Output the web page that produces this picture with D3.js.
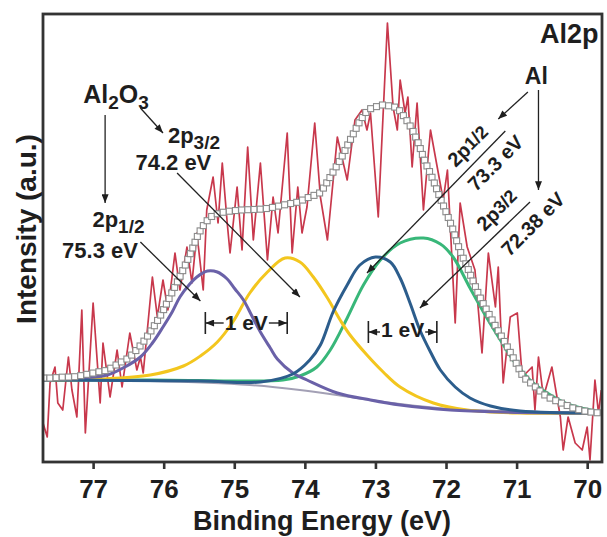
<!DOCTYPE html>
<html><head><meta charset="utf-8">
<script src="https://cdn.jsdelivr.net/npm/d3@7"></script>
<style>
body{margin:0;background:#fff}
text{font-family:Arial,"Liberation Sans",sans-serif;font-weight:bold;fill:#1e1e1e}
</style>
</head><body>
<svg id="chart" width="607" height="537"></svg>
<script>
// ---------- DATA (binding energy eV, intensity a.u.) ----------
const energyTicks = [77, 76, 75, 74, 73, 72, 71, 70];

const rawSpectrum = [[77.71,390],[77.65,250],[77.61,790],[77.54,950],[77.50,590],[77.43,520],[77.35,1050],[77.30,720],[77.23,450],[77.16,1520],[77.11,290],[77.00,1590],[76.90,590],[76.86,1190],[76.76,650],[76.66,1120],[76.59,750],[76.48,1290],[76.38,920],[76.33,1050],[76.29,890],[76.16,1850],[76.09,1450],[76.01,1820],[75.94,1520],[75.84,2090],[75.77,1720],[75.67,2150],[75.60,1790],[75.53,2290],[75.44,1720],[75.39,2520],[75.30,2850],[75.23,2390],[75.17,2990],[75.10,2390],[75.06,2090],[74.96,2750],[74.89,2120],[74.81,3150],[74.73,2220],[74.63,2990],[74.53,2020],[74.45,2650],[74.38,2290],[74.25,3290],[74.18,2090],[74.10,2750],[74.04,2290],[73.97,2550],[73.86,3390],[73.78,2650],[73.68,2220],[73.54,3250],[73.40,2820],[73.29,3420],[73.19,3520],[73.12,3320],[73.07,3490],[72.96,2450],[72.83,4390],[72.75,3550],[72.69,3320],[72.65,3820],[72.58,3490],[72.54,3650],[72.48,2950],[72.41,3590],[72.32,2520],[72.22,3320],[72.13,2970],[72.04,2620],[71.98,2920],[71.87,1390],[71.80,2590],[71.70,2150],[71.59,1920],[71.49,1090],[71.40,2090],[71.30,1550],[71.26,1950],[71.19,790],[71.09,1450],[70.99,1490],[70.92,850],[70.78,950],[70.74,520],[70.69,1050],[70.62,650],[70.50,950],[70.38,450],[70.34,120],[70.27,450],[70.17,190],[70.07,120],[70.00,350],[69.96,20],[69.89,820],[69.84,490],[69.80,720]];

const envelopeFit = [[77.7,840],[77.6,840],[77.5,845],[77.4,850],[77.3,850],[77.2,860],[77.1,875],[77.0,890],[76.9,905],[76.8,920],[76.7,960],[76.6,1000],[76.5,1040],[76.4,1110],[76.3,1190],[76.2,1290],[76.1,1400],[76.0,1525],[75.9,1670],[75.8,1810],[75.7,1960],[75.6,2120],[75.5,2290],[75.4,2400],[75.3,2465],[75.2,2490],[75.1,2505],[75.0,2513],[74.9,2520],[74.8,2523],[74.7,2526],[74.6,2530],[74.5,2540],[74.4,2555],[74.3,2570],[74.2,2585],[74.1,2600],[74.0,2630],[73.9,2660],[73.8,2685],[73.7,2780],[73.6,2900],[73.5,3020],[73.4,3160],[73.3,3300],[73.2,3430],[73.1,3520],[73.0,3550],[72.9,3570],[72.8,3560],[72.7,3540],[72.6,3460],[72.5,3350],[72.4,3200],[72.3,3010],[72.2,2850],[72.1,2670],[72.0,2500],[71.9,2320],[71.8,2110],[71.7,1950],[71.6,1780],[71.5,1620],[71.4,1490],[71.3,1360],[71.2,1240],[71.1,1110],[71.0,980],[70.9,850],[70.8,790],[70.7,730],[70.6,670],[70.5,630],[70.4,600],[70.3,570],[70.2,540],[70.1,520],[70.0,505],[69.9,495],[69.8,490]];

const backgroundFit = [[77.71,820],[76.19,810],[74.78,770],[74.07,720],[73.36,650],[72.65,580],[71.94,530],[71.23,510],[69.82,490]];

const al2o3_2p12 = [[77.71,820],[77.18,840],[76.80,870],[76.55,950],[76.33,1050],[76.16,1190],[76.01,1350],[75.88,1500],[75.77,1650],[75.63,1780],[75.53,1850],[75.38,1910],[75.24,1900],[75.10,1830],[74.99,1730],[74.87,1620],[74.75,1460],[74.63,1300],[74.49,1140],[74.39,1030],[74.17,890],[73.97,820],[73.54,690],[73.07,620],[72.65,570],[71.94,520],[71.23,500],[69.82,490]];

const al2o3_2p32 = [[77.71,820],[76.90,830],[76.19,870],[75.72,960],[75.48,1060],[75.24,1200],[75.02,1400],[74.78,1690],[74.53,1900],[74.28,2040],[74.07,2000],[73.88,1850],[73.68,1640],[73.50,1420],[73.36,1270],[73.12,1070],[72.89,900],[72.65,750],[72.18,590],[71.70,520],[70.95,490],[69.82,490]];

const al_2p12 = [[77.71,820],[75.48,810],[74.63,800],[74.17,880],[73.93,1020],[73.78,1170],[73.60,1500],[73.40,1770],[73.22,1970],[73.00,2050],[72.79,2000],[72.65,1840],[72.51,1590],[72.37,1320],[72.22,1100],[72.08,920],[71.87,750],[71.66,640],[71.37,560],[70.95,510],[69.82,490]];

const al_2p32 = [[77.71,820],[76.19,820],[74.31,820],[74.07,860],[73.83,950],[73.64,1120],[73.40,1440],[73.17,1770],[72.93,2020],[72.65,2190],[72.32,2240],[72.08,2180],[71.90,2050],[71.66,1740],[71.42,1440],[71.23,1220],[71.05,1020],[70.81,820],[70.52,670],[70.24,570],[69.82,500]];

// ---------- LAYOUT ----------
const plot = {l: 43, t: 14, r: 602, b: 462};
const x = d3.scaleLinear().domain([77.71, 69.79]).range([plot.l, plot.r]);
const y = d3.scaleLinear().domain([0, 4480]).range([plot.b, plot.t]);

const svg = d3.select("#chart");
const defs = svg.append("defs");
defs.append("clipPath").attr("id", "clip").append("rect")
  .attr("x", plot.l).attr("y", plot.t).attr("width", plot.r - plot.l).attr("height", plot.b - plot.t);
defs.append("marker").attr("id", "arr").attr("viewBox", "0 0 10 8")
  .attr("refX", 10).attr("refY", 4).attr("markerWidth", 10).attr("markerHeight", 7)
  .attr("markerUnits", "userSpaceOnUse").attr("orient", "auto")
  .append("path").attr("d", "M0,0 L10,4 L0,8 Z").attr("fill", "#1e1e1e");

const g = svg.append("g").attr("clip-path", "url(#clip)");

const lineLin = d3.line().x(d => x(d[0])).y(d => y(d[1]));
const lineSmooth = d3.line().x(d => x(d[0])).y(d => y(d[1])).curve(d3.curveCatmullRom.alpha(0.5));

// raw data
g.append("path").datum(rawSpectrum).attr("d", lineLin)
  .attr("fill", "none").attr("stroke", "#c8384c").attr("stroke-width", 1.7).attr("stroke-linejoin", "round");

// background & components
g.append("path").datum(backgroundFit).attr("d", lineSmooth)
  .attr("fill", "none").attr("stroke", "#a3a0b5").attr("stroke-width", 2);
const comps = [
  {d: al_2p32, c: "#38b779"},
  {d: al2o3_2p32, c: "#f3c61e"},
  {d: al2o3_2p12, c: "#6a61a8"},
  {d: al_2p12, c: "#2c5d8c"}
];
comps.forEach(cp => {
  g.append("path").datum(cp.d).attr("d", lineSmooth)
    .attr("fill", "none").attr("stroke", cp.c).attr("stroke-width", 3);
});

// envelope (open squares)
const envPath = g.append("path").datum(envelopeFit).attr("d", lineSmooth)
  .attr("fill", "none").attr("stroke", "none");
const node = envPath.node();
const total = node.getTotalLength();
const pts = [];
for (let L = 0; L <= total; L += 6.2) pts.push(node.getPointAtLength(L));
g.selectAll("rect.env").data(pts).join("rect").attr("class", "env")
  .attr("x", p => p.x - 3).attr("y", p => p.y - 3).attr("width", 6).attr("height", 6)
  .attr("fill", "#fff").attr("stroke", "#8a8a8a").attr("stroke-width", 1.1);

// frame
svg.append("rect").attr("x", plot.l).attr("y", plot.t)
  .attr("width", plot.r - plot.l).attr("height", plot.b - plot.t)
  .attr("fill", "none").attr("stroke", "#333").attr("stroke-width", 2.8);

// x axis
const xAxis = svg.append("g").attr("transform", `translate(0,${plot.b})`)
  .call(d3.axisBottom(x).tickValues(energyTicks).tickFormat(d3.format("d"))
    .tickSize(7).tickSizeOuter(0).tickPadding(11));
xAxis.select(".domain").remove();
xAxis.selectAll(".tick line").attr("stroke", "#333").attr("stroke-width", 2.6);
xAxis.selectAll(".tick text").attr("font-size", 26).attr("font-family", "Arial, 'Liberation Sans', sans-serif")
  .attr("font-weight", "bold").attr("fill", "#1e1e1e");

svg.append("text").attr("x", 322).attr("y", 530).attr("text-anchor", "middle")
  .attr("font-size", 27).text("Binding Energy (eV)");
svg.append("text").attr("transform", "translate(36,229) rotate(-90)").attr("text-anchor", "middle")
  .attr("font-size", 28).text("Intensity (a.u.)");

// ---------- ANNOTATIONS ----------
const ann = svg.append("g");
const arrows = [
  [70.84, 3700, 71.26, 3430],
  [70.69, 3720, 70.69, 2720],
  [76.83, 3470, 76.83, 2590],
  [76.33, 3540, 76.01, 3290],
  [75.81, 2890, 74.07, 1650],
  [76.33, 2200, 75.48, 1610],
  [71.16, 3310, 73.12, 1890],
  [70.81, 2600, 72.37, 1540]
];
arrows.forEach(a => {
  ann.append("line").attr("x1", x(a[0])).attr("y1", y(a[1])).attr("x2", x(a[2])).attr("y2", y(a[3]))
    .attr("stroke", "#222").attr("stroke-width", 1.3).attr("marker-end", "url(#arr)");
});

ann.append("text").attr("x", x(69.84)).attr("y", y(4190)).attr("text-anchor", "end")
  .attr("font-size", 27).text("Al2p");
ann.append("text").attr("x", x(70.72)).attr("y", y(3780)).attr("text-anchor", "middle")
  .attr("font-size", 23).text("Al");

function subText(E, v, main, sub, size, subSize, tail) {
  const t = ann.append("text").attr("x", x(E)).attr("y", y(v)).attr("font-size", size);
  t.append("tspan").text(main);
  t.append("tspan").attr("font-size", subSize).attr("dy", 6).text(sub);
  if (tail) {
    t.append("tspan").attr("dy", -6).text(tail[0]);
    t.append("tspan").attr("font-size", subSize).attr("dy", 6).text(tail[1]);
  }
  return t;
}
subText(77.14, 3590, "Al", "2", 25, 19, ["O", "3"]);
subText(75.94, 3190, "2p", "3/2", 22, 19);
ann.append("text").attr("x", x(76.40)).attr("y", y(2920)).attr("font-size", 22).text("74.2 eV");
subText(77.01, 2350, "2p", "1/2", 22, 19);
ann.append("text").attr("x", x(77.44)).attr("y", y(2040)).attr("font-size", 22).text("75.3 eV");

function rotText(E, v, main, sub) {
  const t = ann.append("text").attr("transform", `translate(${x(E)},${y(v)}) rotate(-45)`)
    .attr("text-anchor", "middle").attr("dominant-baseline", "central").attr("font-size", 20);
  t.append("tspan").text(main);
  if (sub) t.append("tspan").attr("font-size", 18).text(sub);
}
rotText(71.69, 3160, "2p", "1/2");
rotText(71.30, 2990, "73.3 eV");
rotText(71.28, 2520, "2p", "3/2");
rotText(70.77, 2380, "72.38 eV");

// 1 eV brackets
const brackets = [
  {e1: 75.41, e2: 74.25, v: 1390, tv: 1320},
  {e1: 73.10, e2: 72.13, v: 1300, tv: 1250}
];
brackets.forEach(b => {
  const x1 = x(b.e1), x2 = x(b.e2), yy = y(b.v), cx = (x1 + x2) / 2;
  const t = ann.append("text").attr("x", cx).attr("y", y(b.tv)).attr("text-anchor", "middle")
    .attr("font-size", 21).text("1 eV");
  const w = t.node().getComputedTextLength();
  [x1, x2].forEach(px => {
    ann.append("line").attr("x1", px).attr("x2", px).attr("y1", yy - 11).attr("y2", yy + 11)
      .attr("stroke", "#222").attr("stroke-width", 1.6);
  });
  ann.append("line").attr("x1", cx - w / 2 - 1).attr("x2", x1).attr("y1", yy).attr("y2", yy)
    .attr("stroke", "#222").attr("stroke-width", 1.4).attr("marker-end", "url(#arr)");
  ann.append("line").attr("x1", cx + w / 2 + 1).attr("x2", x2).attr("y1", yy).attr("y2", yy)
    .attr("stroke", "#222").attr("stroke-width", 1.4).attr("marker-end", "url(#arr)");
});
</script>
</body></html>
